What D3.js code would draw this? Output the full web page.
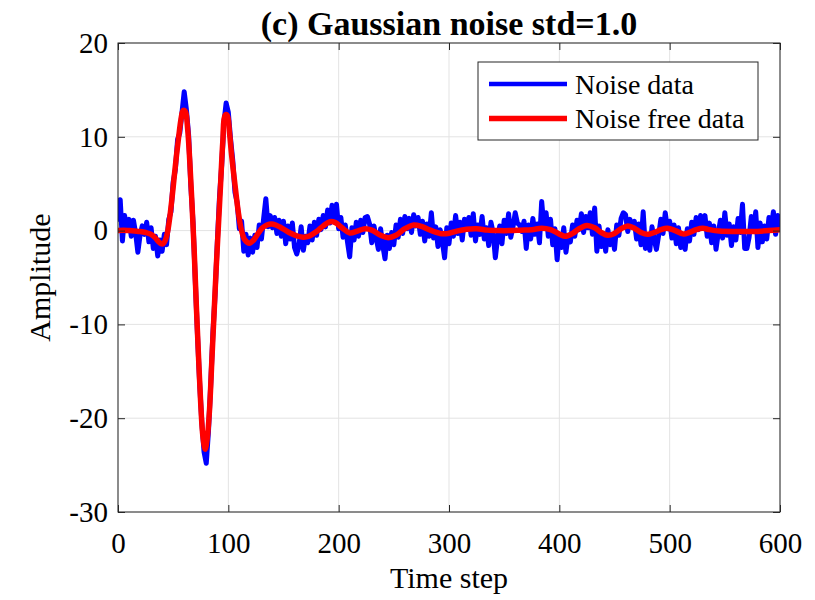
<!DOCTYPE html>
<html><head><meta charset="utf-8">
<script src="https://cdn.jsdelivr.net/npm/d3@7"></script>
<style>
body{margin:0;background:#fff}
svg{display:block}
text{font-family:"Liberation Serif","Times New Roman",serif;fill:#000}
</style>
</head><body>
<svg id="c" width="815" height="600"></svg>
<script>
// ---- data ----
const xTicks = [0, 100, 200, 300, 400, 500, 600];
const yTicks = [-30, -20, -10, 0, 10, 20];
const titleText = "(c) Gaussian noise std=1.0";
const xLabel = "Time step";
const yLabel = "Amplitude";
const seriesNames = ["Noise data", "Noise free data"];

// noisy samples, every 2 time steps from 0 to 600
const noiseStepStart = 0, noiseStepEnd = 600, noiseStepGap = 2;
const noiseValues = [
 1.2, 3.3, -1.1, 1.6, 0.2, 1.2, -0.6, 1.1, -0.3, -2.3,
 -0.5, 0.5, -0.4, 0.9, -1.2, 0.3, -1.9, -0.6, -2.7, -1.0,
 -2.2, -0.4, -1.5, 1.2, 2.0, 5.2, 6.5, 9.7, 10.4, 12.6,
 14.8, 12.9, 10.2, 4.8, 0.9, -5.2, -11.0, -16.3, -20.5, -23.6,
 -24.8, -21.4, -16.5, -11.0, -6.8, -1.3, 3.6, 7.0, 11.5, 13.6,
 12.6, 9.8, 7.5, 4.1, 3.0, 0.2, 1.0, -2.2, -0.4, -2.6,
 -0.8, -2.3, -0.5, -1.8, 0.6, -0.9, 1.3, 3.4, 0.4, 1.6,
 0.3, 1.4, -0.3, 1.1, -0.6, 1.0, -1.4, 0.5, -0.9, 0.8,
 -1.8, -2.5, -1.6, 0.4, -2.1, -0.6, -1.3, 0.5, -1.0, 0.9,
 -0.5, 1.2, 0.1, 1.6, 0.4, 2.2, 0.8, 2.7, 1.0, 2.8,
 0.2, 1.4, -0.7, 0.6, -1.2, -2.8, 0.3, -1.0, 0.9, -0.6,
 1.1, -0.2, 1.4, 1.5, 0.7, -1.3, 0.5, -0.8, -2.0, 0.2,
 -1.6, -3.0, -0.5, -1.9, -0.2, -1.5, 0.6, -0.7, 1.2, -0.3,
 1.5, 0.2, 1.3, -0.2, 1.7, 0.5, 1.4, -0.4, 1.0, -1.1,
 0.7, -0.6, 1.9, -0.8, 0.4, -1.7, 0.1, -1.2, -2.9, 0.3,
 -1.4, 0.8, -0.6, 1.6, -0.3, 0.9, -1.0, 1.2, 0.2, 1.4,
 -0.5, 1.8, -1.1, 0.6, -0.4, 1.5, -0.9, 0.3, -1.6, 0.9,
 -0.2, -2.9, -0.8, 0.5, -1.4, 1.1, -0.3, 1.8, -0.7, 0.4,
 1.9, 0.8, 0.6, -0.1, 1.0, -1.9, 0.6, -0.9, 1.3, -0.4,
 0.7, -1.3, 3.1, 0.4, 1.9, -0.6, 1.2, -1.5, 0.2, -3.1,
 -0.4, -1.8, 0.3, -2.3, -0.5, -1.2, 0.6, -0.6, 1.1, 0.1,
 1.8, -0.2, 1.5, 0.3, 1.9, -0.4, 2.4, -2.2, 0.5, -1.7,
 -0.3, -2.2, 0.1, -1.5, -0.4, -2.0, 0.6, -0.5, 1.3, 1.9,
 1.7, -0.1, 1.2, 0.4, 1.0, -0.9, 0.7, -1.5, 2.0, -1.9,
 -0.6, -2.1, 0.4, -1.0, -2.0, -0.5, 1.2, -0.3, 1.9, 0.2,
 1.0, -0.8, 0.6, -1.4, 0.3, -1.8, -0.5, -2.0, 0.2, -1.1,
 0.9, -0.4, 1.4, 0.1, 1.6, 0.4, 1.6, -0.6, 0.8, -1.3,
 0.5, -2.0, -0.3, 1.1, -0.8, 1.9, -0.5, 0.7, -1.6, 0.4,
 -1.0, 1.3, -0.2, 2.8, -1.9, -1.9, -0.7, 1.5, 0.0, 2.0,
 -1.8, 0.8, -1.2, 0.5, -0.9, 1.4, 0.2, 2.0, -0.4, 1.6,
 0.6
];

// noise-free curve read at these time steps
const freeSteps = [
 0, 5, 10, 15, 20, 25, 30, 34, 37, 39, 41, 43, 45, 47, 49, 51, 53, 55, 57, 59,
 61, 63, 65, 67, 69, 71, 73, 75, 77, 79, 81, 83, 85, 87, 89, 91, 93, 95, 97, 99,
 101, 103, 106, 109, 112, 115, 119, 123, 127, 131, 135, 139, 143, 148, 155, 162, 168, 173, 180, 186,
 192, 197, 203, 210, 217, 224, 230, 238, 245, 252, 260, 268, 275, 283, 292, 299, 307, 316, 325, 335,
 345, 355, 365, 375, 384, 392, 399, 405, 412, 418, 425, 432, 438, 444, 450, 456, 462, 468, 474, 480,
 486, 492, 498, 505, 512, 518, 524, 530, 536, 545, 560, 575, 590, 600
];
const freeValues = [
 0, 0.05, 0, -0.05, -0.1, -0.2, -0.4, -0.8, -1.2, -1.4, -1.4, -1.0, -0.1, 1.5, 3.5, 5.8, 8.0, 10.0, 11.8, 12.8,
 12.7, 11.0, 7.5, 3.0, -2.0, -8.0, -13.5, -18.5, -22.0, -23.3, -22.0, -19.0, -14.0, -9.0, -4.0, 0.5, 5.0, 9.5, 12.3, 12.3,
 10.5, 8.0, 4.9, 2.0, 0, -1.0, -1.35, -1.0, -0.3, 0.3, 0.6, 0.7, 0.6, 0.3, -0.2, -0.55, -0.7, -0.6, -0.1, 0.5,
 0.95, 0.85, 0.3, -0.25, -0.05, 0.2, 0.05, -0.5, -0.75, -0.5, 0.2, 0.6, 0.45, 0.05, -0.3, -0.3, -0.05, 0.15, 0.2, 0.05,
 0, 0, 0.05, 0.1, 0.25, 0.1, -0.3, -0.6, -0.3, 0.2, 0.55, 0.3, -0.2, -0.5, -0.3, 0.2, 0.5, 0.25, -0.2, -0.4,
 -0.2, 0.1, 0.25, 0, -0.35, -0.2, 0.1, 0.25, 0.1, -0.05, -0.1, -0.1, 0, 0.1
];

// ---- chart ----
const W = 815, H = 600;
const m = {left: 118, right: 35, top: 43, bottom: 88};
const iw = W - m.left - m.right, ih = H - m.top - m.bottom;
const svg = d3.select("#c");
const g = svg.append("g").attr("transform", `translate(${m.left},${m.top})`);

const x = d3.scaleLinear().domain([0, 600]).range([0, iw]);
const y = d3.scaleLinear().domain([-30, 20]).range([ih, 0]);

// grid
g.append("g").selectAll("line").data(xTicks).join("line")
  .attr("x1", d => x(d)).attr("x2", d => x(d)).attr("y1", 0).attr("y2", ih)
  .attr("stroke", "#e3e3e3").attr("stroke-width", 1);
g.append("g").selectAll("line").data(yTicks).join("line")
  .attr("y1", d => y(d)).attr("y2", d => y(d)).attr("x1", 0).attr("x2", iw)
  .attr("stroke", "#e3e3e3").attr("stroke-width", 1);

// lines
svg.append("defs").append("clipPath").attr("id", "clip")
  .append("rect").attr("width", iw).attr("height", ih);
const plot = g.append("g").attr("clip-path", "url(#clip)");

const noiseData = d3.range(noiseStepStart, noiseStepEnd + 1, noiseStepGap)
  .map((s, i) => [s, noiseValues[i]]);
const freeData = freeSteps.map((s, i) => [s, freeValues[i]]);

plot.append("path").datum(noiseData)
  .attr("fill", "none").attr("stroke", "#0000ff").attr("stroke-width", 5)
  .attr("stroke-linejoin", "round").attr("stroke-linecap", "round")
  .attr("d", d3.line().x(d => x(d[0])).y(d => y(d[1])));
plot.append("path").datum(freeData)
  .attr("fill", "none").attr("stroke", "#ff0000").attr("stroke-width", 5.5)
  .attr("stroke-linejoin", "round").attr("stroke-linecap", "round")
  .attr("d", d3.line().curve(d3.curveCatmullRom.alpha(0.5)).x(d => x(d[0])).y(d => y(d[1])));

// axes (MATLAB style, inward ticks)
const axColor = "#262626";
function styleAxis(sel) {
  sel.select(".domain").remove();
  sel.selectAll(".tick line").attr("stroke", axColor);
  sel.selectAll("text").attr("font-size", 29).attr("fill", "#000")
    .style("font-family", '"Liberation Serif","Times New Roman",serif');
}
g.append("g").attr("transform", `translate(0,${ih})`)
  .call(d3.axisBottom(x).tickValues(xTicks).tickSize(-7).tickPadding(20).tickFormat(d3.format("d")))
  .call(styleAxis);
g.append("g")
  .call(d3.axisLeft(y).tickValues(yTicks).tickSize(-7).tickPadding(10).tickFormat(d => d3.format("d")(d).replace("−", "-")))
  .call(styleAxis);
g.append("g")
  .call(d3.axisTop(x).tickValues(xTicks).tickSize(-7).tickFormat(""))
  .call(styleAxis);
g.append("g").attr("transform", `translate(${iw},0)`)
  .call(d3.axisRight(y).tickValues(yTicks).tickSize(-7).tickFormat(""))
  .call(styleAxis);

// box
g.append("rect").attr("width", iw).attr("height", ih)
  .attr("fill", "none").attr("stroke", axColor).attr("stroke-width", 1);

// title and labels
svg.append("text").attr("x", m.left + iw / 2).attr("y", 35)
  .attr("text-anchor", "middle").attr("font-size", 34).attr("font-weight", "bold")
  .text(titleText);
svg.append("text").attr("x", m.left + iw / 2).attr("y", 588)
  .attr("text-anchor", "middle").attr("font-size", 30).text(xLabel);
svg.append("text").attr("transform", `translate(50,${m.top + ih / 2}) rotate(-90)`)
  .attr("text-anchor", "middle").attr("font-size", 30).text(yLabel);

// legend
const lg = svg.append("g").attr("transform", "translate(478,62)");
lg.append("rect").attr("width", 280).attr("height", 78)
  .attr("fill", "#fff").attr("stroke", axColor).attr("stroke-width", 1);
const legColors = ["#0000ff", "#ff0000"];
const legWidths = [4.5, 5.5];
seriesNames.forEach((name, i) => {
  const yy = 22 + i * 34.5;
  lg.append("line").attr("x1", 11).attr("x2", 89).attr("y1", yy).attr("y2", yy)
    .attr("stroke", legColors[i]).attr("stroke-width", legWidths[i]);
  lg.append("text").attr("x", 97).attr("y", yy + 9.5).attr("font-size", 28).text(name);
});
</script>
</body></html>
